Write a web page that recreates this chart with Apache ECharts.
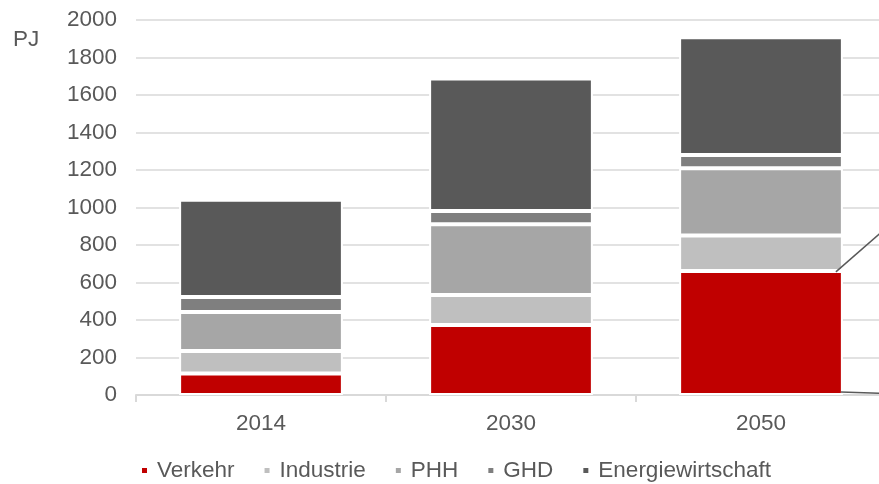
<!DOCTYPE html>
<html>
<head>
<meta charset="utf-8">
<script src="https://cdn.jsdelivr.net/npm/echarts@6/dist/echarts.min.js"></script>
<style>
  html, body { margin: 0; padding: 0; background: #fff; }
  #chart { width: 879px; height: 484px; }
</style>
</head>
<body>
<div id="chart"></div>
<script>
// Jahre auf der x-Achse
const years = ['2014', '2030', '2050'];

// Werte in PJ, je Sektor
const verkehr = [115, 373, 662];
const industrie = [120, 160, 189];
const phh = [208, 378, 359];
const ghd = [80, 70, 70];
const energiewirtschaft = [518, 707, 628];

const yTicks = [0, 200, 400, 600, 800, 1000, 1200, 1400, 1600, 1800, 2000];

const textColor = '#595959';
const font = 'Liberation Sans, Arial, sans-serif';
const fs = 22.5;

const chart = echarts.init(document.getElementById('chart'));

function bar(name, data, color) {
  return {
    name: name,
    type: 'bar',
    stack: 'total',
    data: data,
    barWidth: '65.5%',
    itemStyle: { color: color, borderColor: '#fff', borderWidth: 2 },
  };
}

const option = {
  animation: false,
  grid: { left: 136, width: 750, top: 20, bottom: 89, outerBoundsMode: 'none', containLabel: false },
  legend: {
    left: 140,
    top: 459,
    padding: 0,
    icon: 'rect',
    itemWidth: 7,
    itemHeight: 7,
    itemGap: 28,
    textStyle: { color: textColor, fontSize: fs, fontFamily: font, padding: [0, 0, 0, 4] },
  },
  xAxis: {
    type: 'category',
    data: years,
    axisLine: { lineStyle: { color: '#D9D9D9', width: 2 } },
    axisTick: { show: true, length: 7, lineStyle: { color: '#D9D9D9', width: 2 } },
    axisLabel: { color: textColor, fontSize: fs, fontFamily: font, margin: 17 },
  },
  yAxis: {
    type: 'value',
    min: yTicks[0],
    max: yTicks[yTicks.length - 1],
    interval: 200,
    axisLine: { show: false },
    axisTick: { show: false },
    axisLabel: { color: textColor, fontSize: fs, fontFamily: font, margin: 19, formatter: (v) => String(v) },
    splitLine: { lineStyle: { color: '#D9D9D9', width: 1.5 } },
  },
  series: [
    bar('Verkehr', verkehr, '#C00000'),
    bar('Industrie', industrie, '#BFBFBF'),
    bar('PHH', phh, '#A6A6A6'),
    bar('GHD', ghd, '#7F7F7F'),
    bar('Energiewirtschaft', energiewirtschaft, '#595959'),
  ],
};

chart.setOption(option);

// Verbindungslinien zum (abgeschnittenen) Detaildiagramm rechts, am 2050er Verkehr-Balken
const top2050 = chart.convertToPixel({ gridIndex: 0 }, ['2050', verkehr[2]]);
const base2050 = chart.convertToPixel({ gridIndex: 0 }, ['2050', 0]);
const halfBar = chart.getModel().getSeriesByIndex(0).getData().getItemLayout(2).width / 2;
const rx = top2050[0] + halfBar;

chart.setOption({
  graphic: [
    {
      type: 'text',
      left: 13,
      top: 28,
      style: { text: 'PJ', fill: textColor, fontSize: fs, fontFamily: font },
    },
    {
      type: 'line',
      shape: { x1: rx - 7, y1: top2050[1] + 1, x2: rx + 80, y2: top2050[1] - 75 },
      style: { stroke: '#595959', lineWidth: 1.5 },
      z: 10,
    },
    {
      type: 'line',
      shape: { x1: rx - 2, y1: base2050[1] - 3, x2: rx + 80, y2: base2050[1] - 0.5 },
      style: { stroke: '#595959', lineWidth: 1.5 },
      z: 10,
    },
  ],
});
</script>
</body>
</html>
